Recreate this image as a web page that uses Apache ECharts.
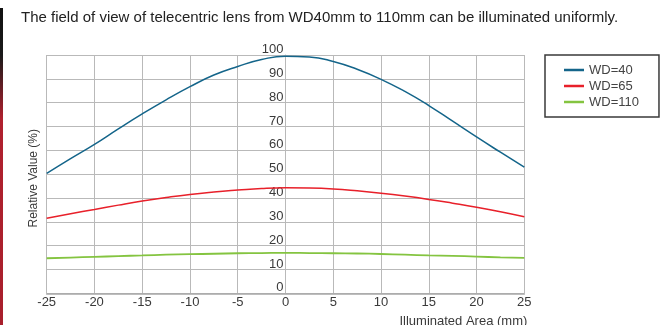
<!DOCTYPE html>
<html>
<head>
<meta charset="utf-8">
<script src="https://cdn.jsdelivr.net/npm/echarts@6/dist/echarts.min.js"></script>
<style>
  html, body { margin: 0; padding: 0; background: #fff; }
  #chart { width: 670px; height: 325px; }
</style>
</head>
<body>
<div id="chart"></div>
<script>
// Illuminated area position (mm)
const positions = [-25, -22.5, -20, -17.5, -15, -12.5, -10, -7.5, -5, -2.5, 0,
                   2.5, 5, 7.5, 10, 12.5, 15, 17.5, 20, 22.5, 25];

// Relative illumination (%) for each working distance
const wd40  = [50.3, 56.5, 62.5, 69.0, 75.3, 81.2, 86.7, 91.6, 95.2, 98.1, 99.5,
               99.2, 97.3, 94.0, 89.8, 84.7, 78.8, 72.2, 65.6, 59.2, 52.9];
const wd65  = [31.5, 33.4, 35.2, 37.0, 38.7, 40.2, 41.5, 42.5, 43.3, 44.0, 44.3,
               44.2, 43.8, 43.0, 42.0, 40.8, 39.4, 37.8, 36.1, 34.2, 32.1];
const wd110 = [14.7, 15.0, 15.3, 15.6, 15.9, 16.2, 16.4, 16.6, 16.8, 16.9, 17.0,
               16.9, 16.8, 16.7, 16.5, 16.2, 15.9, 15.7, 15.4, 15.1, 14.9];

const seriesNames = ['WD=40', 'WD=65', 'WD=110'];
const seriesColors = ['#14658a', '#e8202a', '#84c440'];

const titleText = 'The field of view of telecentric lens from WD40mm to 110mm can be illuminated uniformly.';
const yAxisName = 'Relative Value (%)';
const xAxisName = 'Illuminated Area (mm)';

const FONT = '"Liberation Sans", Arial, sans-serif';
const TEXT = '#3a3a3a';
const GRID = '#b9b9b9';

// plot box, in pixels
const PLOT_LEFT = 46.7;
const PLOT_RIGHT = 524.3;
const PLOT_TOP = 55;
const PLOT_BOTTOM = 293.3;

function pairs(vals) {
  return positions.map((x, i) => [x, vals[i]]);
}

const chart = echarts.init(document.getElementById('chart'), null, { renderer: 'canvas' });

chart.setOption({
  animation: false,
  backgroundColor: '#fff',
  textStyle: { fontFamily: FONT },
  title: {
    text: titleText,
    left: 16,
    top: 5,
    textStyle: { fontFamily: FONT, fontSize: 15, fontWeight: 'normal', color: '#222' }
  },
  graphic: [
    {
      type: 'rect',
      shape: { x: 0, y: 8, width: 3, height: 317 },
      style: {
        fill: new echarts.graphic.LinearGradient(0, 0, 0, 1, [
          { offset: 0, color: '#111' },
          { offset: 0.15, color: '#1a1a1a' },
          { offset: 0.35, color: '#b0202e' },
          { offset: 1, color: '#a81f2c' }
        ])
      }
    },
    {
      type: 'text',
      left: 28,
      top: 129,
      rotation: Math.PI / 2,
      style: { text: yAxisName, fill: TEXT, font: '12px ' + FONT }
    }
  ],
  legend: {
    orient: 'vertical',
    left: 545,
    top: 55,
    padding: [8, 20, 8, 19],
    itemGap: 2,
    itemWidth: 20,
    itemHeight: 2.5,
    icon: 'rect',
    borderColor: '#3a3a3a',
    borderWidth: 1.5,
    textStyle: { fontFamily: FONT, fontSize: 13, color: '#444', lineHeight: 14 },
    data: seriesNames
  },
  grid: {
    left: PLOT_LEFT,
    right: 670 - PLOT_RIGHT,
    top: PLOT_TOP,
    bottom: 325 - PLOT_BOTTOM,
    containLabel: false,
    outerBoundsMode: 'none'
  },
  xAxis: {
    type: 'value',
    min: -25,
    max: 25,
    interval: 5,
    name: xAxisName,
    nameLocation: 'end',
    nameGap: 0,
    nameTextStyle: {
      fontFamily: FONT, fontSize: 13, color: TEXT,
      align: 'right', verticalAlign: 'top', padding: [22, -3, 0, 0]
    },
    axisLine: { show: true, lineStyle: { color: '#a8a8a8', width: 1.5 } },
    axisTick: { show: false },
    splitLine: { show: true, lineStyle: { color: GRID, width: 1 } },
    axisLabel: { color: TEXT, fontSize: 13, fontFamily: FONT, margin: 3 }
  },
  yAxis: {
    type: 'value',
    min: 0,
    max: 100,
    interval: 10,
    // value labels sit along the x = 0 line
    offset: -(PLOT_RIGHT - PLOT_LEFT) / 2,
    axisLine: { show: true, onZero: false, lineStyle: { color: GRID, width: 1 } },
    axisTick: { show: false },
    splitLine: { show: true, lineStyle: { color: GRID, width: 1 } },
    axisLabel: {
      color: TEXT, fontSize: 13, fontFamily: FONT,
      margin: 2, verticalAlign: 'bottom', lineHeight: 11
    }
  },
  series: [
    { name: seriesNames[0], data: pairs(wd40) },
    { name: seriesNames[1], data: pairs(wd65) },
    { name: seriesNames[2], data: pairs(wd110) }
  ].map((s, i) => ({
    type: 'line',
    name: s.name,
    data: s.data,
    smooth: true,
    showSymbol: false,
    symbol: 'none',
    color: seriesColors[i],
    lineStyle: { color: seriesColors[i], width: i === 2 ? 1.8 : 1.5 }
  }))
});
</script>
</body>
</html>
